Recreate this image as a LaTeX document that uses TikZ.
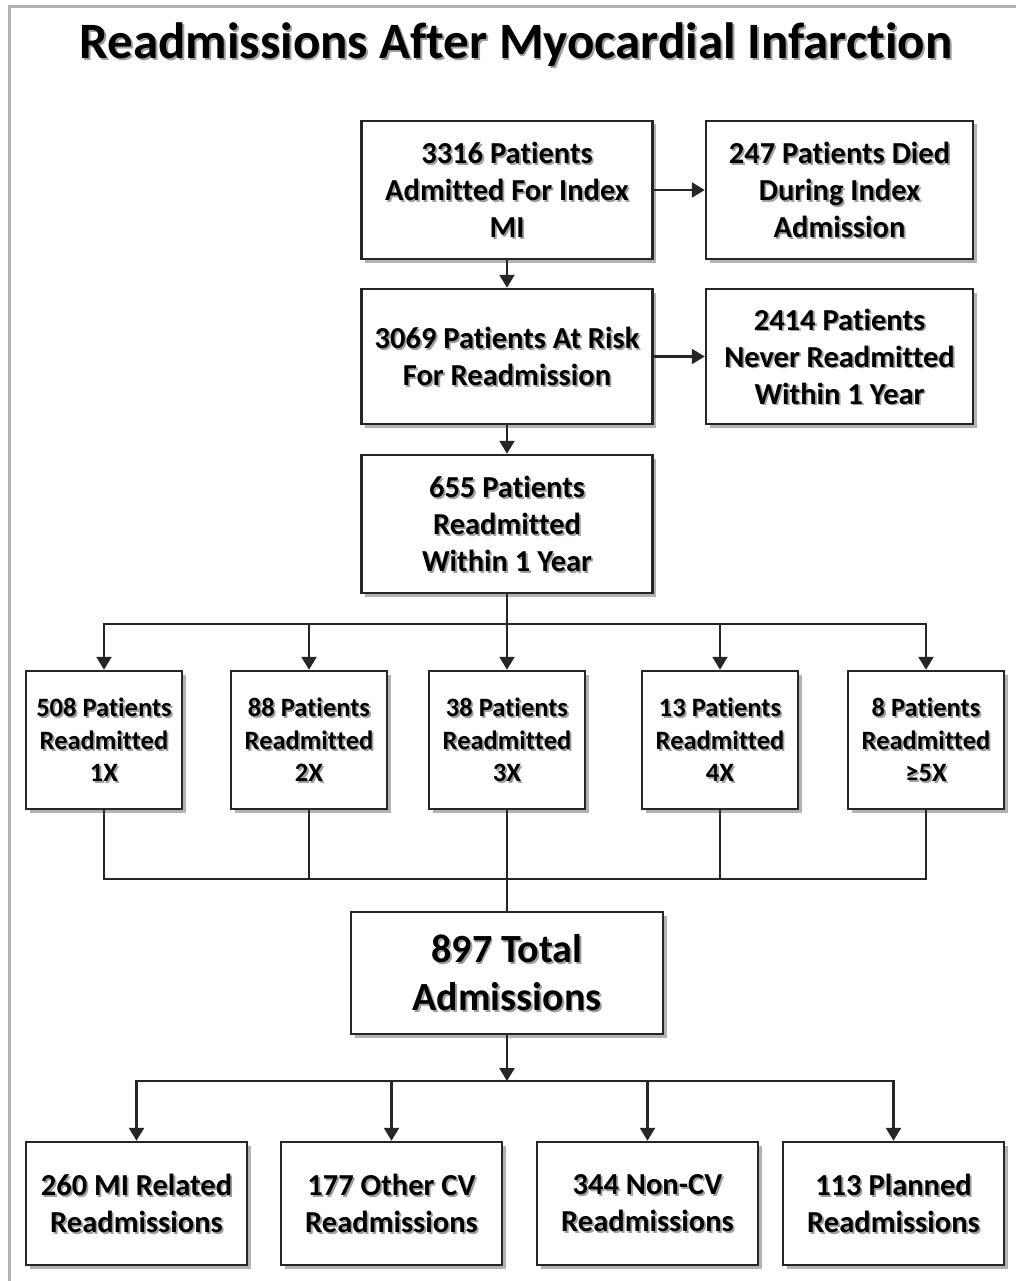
\documentclass[tikz,border=0pt]{standalone}
\usepackage{fontspec}
\setmainfont{Carlito}[Ligatures=NoCommon]
\usetikzlibrary{arrows.meta,shadows}
% text with a soft grey shadow, one line at a time
\newcommand\sh[1]{\leavevmode\rlap{\kern1.8pt\smash{\raisebox{-1.8pt}{\color{gray!75}#1}}}#1}
\tikzset{
  box/.style={draw=black!85, line width=2.5pt, fill=white, inner sep=0pt, align=center,
              font=\bfseries\fontsize{30.5}{37}\selectfont,
              drop shadow={shadow xshift=3.5pt, shadow yshift=-3.5pt, fill=gray, opacity=.6}},
  small/.style={font=\bfseries\fontsize{26.5}{32.5}\selectfont,
                minimum width=156, minimum height=138},
  large/.style={font=\bfseries\fontsize{40}{48}\selectfont,
                minimum width=312, minimum height=122},
  conn/.style={draw=black!85, line width=2.5pt},
  arr/.style={-{Triangle[length=13pt, width=15pt]}}
}
\begin{document}
\begin{tikzpicture}[x=1pt, y=-1pt]
  \useasboundingbox[fill=white] (0,0) rectangle (1016,1281);
  \draw[gray!60, line width=3pt] (1016,7) -- (9.5,7) -- (9.5,1281);
  \node[font=\bfseries\fontsize{51}{61}\selectfont] (title) at (516,45)
    {\sh{Readmissions After Myocardial Infarction}};

  % top column
  \node[box, minimum width=291, minimum height=138] (index) at (507,190)
    {\sh{3316 Patients}\\\sh{Admitted For Index}\\\sh{MI}};
  \node[box, minimum width=267, minimum height=138] (died) at (839.5,190)
    {\sh{247 Patients Died}\\\sh{During Index}\\\sh{Admission}};
  \node[box, minimum width=291, minimum height=135] (risk) at (507,356.5)
    {\sh{3069 Patients At Risk}\\\sh{For Readmission}};
  \node[box, minimum width=267, minimum height=135] (never) at (839.5,356.5)
    {\sh{2414 Patients}\\\sh{Never Readmitted}\\\sh{Within 1 Year}};
  \node[box, minimum width=291, minimum height=138] (readm) at (507,524)
    {\sh{655 Patients}\\\sh{Readmitted}\\\sh{Within 1 Year}};

  % how often
  \foreach \x/\n/\t [count=\i] in {104/508/1X, 309/88/2X, 507/38/3X, 720/13/4X, 926/8/{≥5X}}
    \node[box, small] (r\i) at (\x,740) {\sh{\n\ Patients}\\\sh{Readmitted}\\\sh{\t}};

  \node[box, large] (total) at (507,973) {\sh{897 Total}\\\sh{Admissions}};

  % kinds of readmission
  \foreach \x/\t [count=\i] in {136.5/{260 MI Related}, 391.5/{177 Other CV},
                                647.5/{344 Non-CV}, 893.5/{113 Planned}}
    \node[box, minimum width=221, minimum height=123] (k\i) at (\x,1203.5)
      {\sh{\t}\\\sh{Readmissions}};

  % connectors
  \draw[conn, arr] (index) -- (died);
  \draw[conn, arr] (index) -- (risk);
  \draw[conn, arr] (risk) -- (never);
  \draw[conn, arr] (risk) -- (readm);

  \coordinate (fan) at (507,624);
  \draw[conn] (readm.south) -- (fan);
  \draw[conn, arr] (fan) -| (r1.north);
  \draw[conn, arr] (fan) -| (r5.north);
  \foreach \i in {2,3,4}
    \draw[conn, arr] (r\i.north |- fan) -- (r\i.north);

  \coordinate (join) at (507,879);
  \draw[conn] (r1.south) |- (join) -| (r5.south);
  \foreach \i in {2,3,4}
    \draw[conn] (r\i.south) -- (r\i.south |- join);
  \draw[conn] (join) -- (total.north);

  \coordinate (split) at (507,1081);
  \draw[conn, arr] (total.south) -- (split);
  \draw[conn, arr] (split) -| (k1.north);
  \draw[conn, arr] (split) -| (k4.north);
  \foreach \i in {2,3}
    \draw[conn, arr] (k\i.north |- split) -- (k\i.north);
\end{tikzpicture}
\end{document}
